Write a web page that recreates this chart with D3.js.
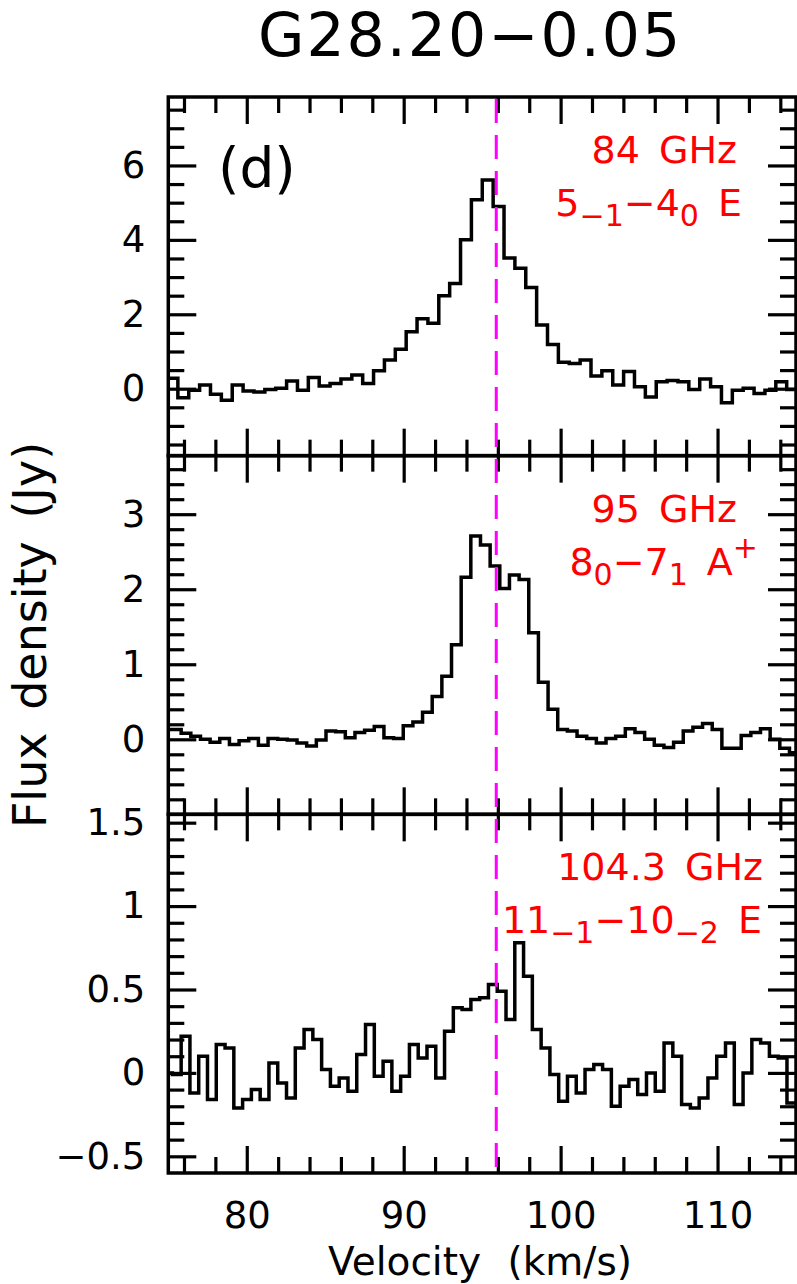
<!DOCTYPE html>
<html>
<head>
<meta charset="utf-8">
<script src="https://cdn.jsdelivr.net/npm/d3@7"></script>
<style>
  body { margin: 0; background: #fff; }
  svg { display: block; }
  text { font-family: "DejaVu Sans", sans-serif; }
</style>
</head>
<body>
<script>
//Declare VARIABLES
const w = 797
const h = 1284
const frame = { left: 168.3, right: 796, top: 97, bottom: 1173 }
const panelH = (frame.bottom - frame.top) / 3

////////////Data////////////
//84 GHz spectrum: first channel edge (km/s), channel width, flux per channel (Jy)
const start84 = 74.917
const step84 = 0.6928
const flux84 = [0.28, -0.24, -0.04, 0.10, -0.15, -0.31, 0.10, -0.06, -0.09, -0.02,
  0.01, 0.21, -0.04, 0.30, 0.07, 0.14, 0.26, 0.37, 0.14, 0.48,
  0.77, 1.06, 1.53, 1.88, 1.76, 2.50, 2.83, 4.00, 5.08, 5.61,
  4.90, 3.51, 3.24, 2.72, 1.71, 1.19, 0.71, 0.68, 0.77, 0.34,
  0.48, 0.10, 0.46, 0.05, -0.22, 0.19, 0.22, 0.19, -0.02, 0.26,
  0.05, -0.38, -0.04, 0.01, -0.13, -0.04, 0.19, -0.02]

//95 GHz spectrum
const start95 = 74.589
const step95 = 0.6153
const flux95 = [0.13, 0.13, 0.08, 0.04, 0.00, -0.04, 0.01, -0.07, -0.02, 0.01,
  -0.08, 0.01, 0.00, -0.01, -0.05, -0.09, -0.01, 0.11, 0.10, 0.02,
  0.09, 0.12, 0.17, 0.02, 0.01, 0.18, 0.23, 0.36, 0.57, 0.84,
  1.26, 2.16, 2.71, 2.59, 2.31, 2.01, 2.19, 2.13, 1.42, 0.76,
  0.40, 0.13, 0.11, 0.04, 0.01, -0.05, 0.01, 0.04, 0.14, 0.09,
  0.00, -0.08, -0.11, -0.04, 0.11, 0.16, 0.21, 0.13, -0.12, -0.12,
  0.05, 0.09, 0.14, 0.00, -0.12, -0.18]

//104.3 GHz spectrum
const start104 = 74.70
const step104 = 0.5595
const flux104 = [0.00, -0.01, 0.22, -0.12, 0.10, -0.16, 0.17, 0.15, -0.21, -0.16,
  -0.10, -0.16, 0.06, -0.06, -0.15, 0.15, 0.26, 0.20, 0.02, -0.08,
  -0.03, -0.11, 0.11, 0.29, -0.02, 0.07, -0.11, -0.02, 0.17, 0.09,
  0.16, -0.03, 0.25, 0.39, 0.38, 0.44, 0.45, 0.53, 0.49, 0.32,
  0.78, 0.58, 0.26, 0.15, -0.01, -0.17, -0.02, -0.12, 0.02, 0.05,
  0.02, -0.20, -0.08, -0.04, -0.13, 0.00, -0.11, 0.18, 0.10, -0.19,
  -0.21, -0.15, -0.03, 0.10, 0.18, -0.19, 0.00, 0.20, 0.18, 0.10,
  0.09, -0.18]

//Systemic velocity (dashed line)
const vlsr = 95.9

//Axes
const xDomain = [75, 115]
const xMajor = [80, 90, 100, 110]
const xMinor = [76, 78, 82, 84, 86, 88, 92, 94, 96, 98, 102, 104, 106, 108, 112, 114]

const yDomain84 = [-1.80, 7.84]
const yMajor84 = [0, 2, 4, 6]
const yMinor84 = 0.5
const yDomain95 = [-1.0, 3.78]
const yMajor95 = [0, 1, 2, 3]
const yMinor95 = 0.2
const yDomain104 = [-0.60, 1.55]
const yMajor104 = [-0.5, 0, 0.5, 1, 1.5]
const yMinor104 = 0.1

//Texts
const title = "G28.20\u22120.05"
const panelTag = "(d)"
const freqLabels = ["84 GHz", "95 GHz", "104.3 GHz"]
//[text, kind] kind: null = normal, "sub", "sup"
const transLabels = [
  [["5", null], ["\u22121", "sub"], ["\u2212", null], ["4", null], ["0", "sub"], [" E", null]],
  [["8", null], ["0", "sub"], ["\u2212", null], ["7", null], ["1", "sub"], [" A", null], ["+", "sup"]],
  [["11", null], ["\u22121", "sub"], ["\u2212", null], ["10", null], ["\u22122", "sub"], [" E", null]]
]
const xTitle = "Velocity (km/s)"
const yTitle = "Flux density (Jy)"

//Table for the three panels
const panels = [
  { start: start84, step: step84, flux: flux84, domain: yDomain84, major: yMajor84, minor: yMinor84 },
  { start: start95, step: step95, flux: flux95, domain: yDomain95, major: yMajor95, minor: yMinor95 },
  { start: start104, step: step104, flux: flux104, domain: yDomain104, major: yMajor104, minor: yMinor104 }
]
//label right edges per panel [freq, transition]
const labelEnds = [[737, 742], [737, 758], [763, 762]]

//Declare SVG
const svg = d3.select('body')
  .append('svg')
  .attr('width', w)
  .attr('height', h)

const x = d3.scaleLinear().domain(xDomain).range([frame.left, frame.right])
const fmt = d => d3.format("~g")(d)

function minorTicks(domain, step, major) {
  const out = []
  for (let k = Math.ceil(domain[0] / step - 1e-6); k * step < domain[1] - 1e-6; k++) {
    const v = +(k * step).toFixed(4)
    if (v <= domain[0] + 1e-6) continue
    if (major.some(m => Math.abs(m - v) < 1e-6)) continue
    out.push(v)
  }
  return out
}

function styleAxis(g) {
  g.select('.domain').remove()
  g.selectAll('line').attr('stroke', '#000').attr('stroke-width', 3.2)
  g.selectAll('text').attr('font-family', '"DejaVu Sans", sans-serif').attr('font-size', 37).attr('fill', '#000')
}

panels.forEach((p, i) => {
  const y0 = frame.top + i * panelH
  const y1 = y0 + panelH
  const y = d3.scaleLinear().domain(p.domain).range([y1, y0])
  const g = svg.append('g')

  //clip
  g.append('clipPath').attr('id', 'clip' + i)
    .append('rect')
    .attr('x', frame.left).attr('y', y0)
    .attr('width', frame.right - frame.left).attr('height', panelH)

  //spectrum as histogram
  const pts = p.flux.map((f, k) => [p.start + k * p.step, f])
  pts.push([p.start + p.flux.length * p.step, p.flux[p.flux.length - 1]])
  const line = d3.line().x(d => x(d[0])).y(d => y(d[1])).curve(d3.curveStepAfter)
  g.append('path')
    .attr('clip-path', 'url(#clip' + i + ')')
    .attr('d', line(pts))
    .attr('fill', 'none')
    .attr('stroke', '#000')
    .attr('stroke-width', 3.5)
    .attr('stroke-linejoin', 'miter')

  //y axes: left with labels, right without
  const yMin = minorTicks(p.domain, p.minor, p.major)
  g.append('g').attr('transform', 'translate(' + frame.left + ',0)')
    .call(d3.axisLeft(y).tickValues(p.major).tickSize(-28).tickPadding(23).tickFormat(fmt))
    .call(styleAxis)
  g.append('g').attr('transform', 'translate(' + frame.left + ',0)')
    .call(d3.axisLeft(y).tickValues(yMin).tickSize(-16).tickFormat(''))
    .call(styleAxis)
  g.append('g').attr('transform', 'translate(' + frame.right + ',0)')
    .call(d3.axisRight(y).tickValues(p.major).tickSize(-28).tickFormat(''))
    .call(styleAxis)
  g.append('g').attr('transform', 'translate(' + frame.right + ',0)')
    .call(d3.axisRight(y).tickValues(yMin).tickSize(-16).tickFormat(''))
    .call(styleAxis)

  //x axes: top and bottom ticks of every panel
  g.append('g').attr('transform', 'translate(0,' + y0 + ')')
    .call(d3.axisTop(x).tickValues(xMajor).tickSize(-27).tickFormat(''))
    .call(styleAxis)
  g.append('g').attr('transform', 'translate(0,' + y0 + ')')
    .call(d3.axisTop(x).tickValues(xMinor).tickSize(-16).tickFormat(''))
    .call(styleAxis)
  g.append('g').attr('transform', 'translate(0,' + y1 + ')')
    .call(d3.axisBottom(x).tickValues(xMajor).tickSize(-27).tickPadding(29)
      .tickFormat(i === 2 ? fmt : ''))
    .call(styleAxis)
  g.append('g').attr('transform', 'translate(0,' + y1 + ')')
    .call(d3.axisBottom(x).tickValues(xMinor).tickSize(-16).tickFormat(''))
    .call(styleAxis)

  //frame
  g.append('rect')
    .attr('x', frame.left).attr('y', y0)
    .attr('width', frame.right - frame.left).attr('height', panelH)
    .attr('fill', 'none').attr('stroke', '#000').attr('stroke-width', 3.5)

  //red labels
  g.append('text')
    .attr('x', labelEnds[i][0]).attr('y', y0 + 66)
    .attr('text-anchor', 'end')
    .attr('font-size', 38)
    .attr('word-spacing', 7)
    .attr('fill', '#ff0000')
    .text(freqLabels[i])

  const t = g.append('text')
    .attr('x', labelEnds[i][1]).attr('y', y0 + 119)
    .attr('text-anchor', 'end')
    .attr('font-size', 38)
    .attr('word-spacing', 7)
    .attr('fill', '#ff0000')
  let shift = 0
  transLabels[i].forEach(part => {
    const target = part[1] === 'sub' ? 10 : part[1] === 'sup' ? -17 : 0
    t.append('tspan')
      .attr('dy', target - shift)
      .attr('font-size', part[1] ? 30 : 38)
      .text(part[0])
    shift = target
  })
})

//dashed systemic velocity line
svg.append('line')
  .attr('x1', x(vlsr)).attr('x2', x(vlsr))
  .attr('y1', frame.top + 2).attr('y2', frame.bottom - 2)
  .attr('stroke', '#ff00ff')
  .attr('stroke-width', 3)
  .attr('stroke-dasharray', '24,12')

//Title
svg.append('text')
  .attr('x', 470)
  .attr('y', 56)
  .attr('text-anchor', 'middle')
  .attr('font-size', 60)
  .attr('letter-spacing', 2)
  .text(title)

//Panel tag
svg.append('text')
  .attr('x', 218)
  .attr('y', 187)
  .attr('font-size', 55)
  .text(panelTag)

//Axis titles
svg.append('text')
  .attr('x', 480)
  .attr('y', 1275)
  .attr('text-anchor', 'middle')
  .attr('font-size', 39)
  .attr('word-spacing', 14)
  .text(xTitle)

svg.append('text')
  .attr('transform', 'translate(46,635) rotate(-90)')
  .attr('text-anchor', 'middle')
  .attr('font-size', 46)
  .attr('word-spacing', 8)
  .text(yTitle)
</script>
</body>
</html>
